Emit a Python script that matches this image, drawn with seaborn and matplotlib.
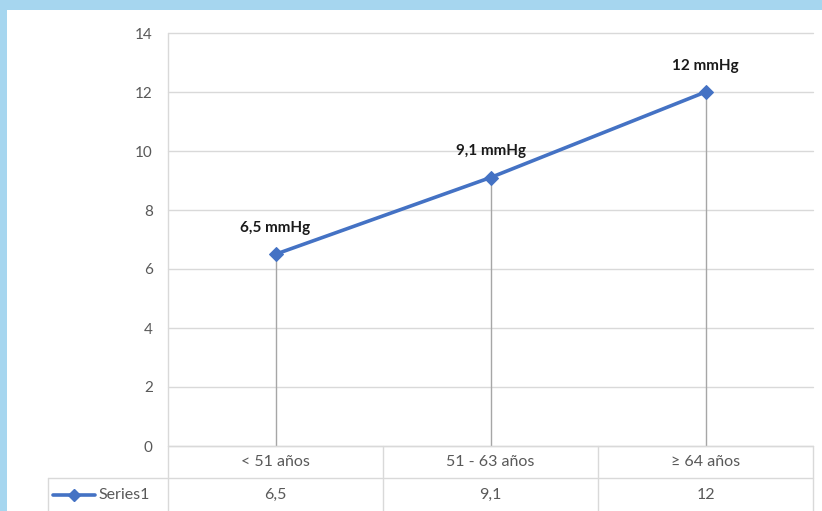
import matplotlib
matplotlib.use("Agg")
import matplotlib.pyplot as plt
from matplotlib.patches import Rectangle
from matplotlib.lines import Line2D
import seaborn as sns
import pandas as pd

categories = ["< 51 años", "51 - 63 años", "≥ 64 años"]
values = [6.5, 9.1, 12]
value_text = ["6,5", "9,1", "12"]
point_labels = ["6,5 mmHg", "9,1 mmHg", "12 mmHg"]
series_name = "Series1"
y_ticks = [0, 2, 4, 6, 8, 10, 12, 14]

sns.set_theme(style="white")
plt.rcParams["font.family"] = ["Lato", "DejaVu Sans"]

W, H = 822, 511
fig = plt.figure(figsize=(W / 100, H / 100), dpi=100)
fig.patch.set_facecolor("#a6d6ef")

# white panel inside the blue frame
fig.add_artist(Rectangle((7 / W, 0), 1, 1 - 10 / H, transform=fig.transFigure,
                         facecolor="white", edgecolor="none", zorder=0))

left, right, top, bottom = 168, 813, 33, 446
ax = fig.add_axes([left / W, 1 - bottom / H, (right - left) / W, (bottom - top) / H])
ax.set_facecolor("none")

df = pd.DataFrame({"x": range(len(categories)), "y": values})

grid_c = "#d9d9d9"
for t in y_ticks:
    ax.axhline(t, color=grid_c, lw=1, zorder=0, clip_on=False)

# drop lines from each point to zero
ax.vlines(df["x"], 0, df["y"], color="#a6a6a6", lw=1, zorder=1)

sns.lineplot(data=df, x="x", y="y", ax=ax, color="#4472c4", lw=2.6,
             marker="D", markersize=7, markeredgecolor="#4472c4", zorder=3)

for xi, yi, lab in zip(df["x"], df["y"], point_labels):
    ax.annotate(lab, (xi, yi), xytext=(0, 14), textcoords="offset points",
                ha="center", va="bottom", fontsize=11, fontweight="bold",
                color="#1a1a1a")

ax.set_xlim(-0.5, 2.5)
ax.set_ylim(0, 14)
ax.set_yticks(y_ticks)
ax.set_yticklabels([str(t) for t in y_ticks], color="#595959", fontsize=11)
ax.set_xticks([])
ax.tick_params(axis="y", length=5, color=grid_c, pad=6)
ax.set_xlabel("")
ax.set_ylabel("")
for s in ["top", "right", "bottom", "left"]:
    ax.spines[s].set_visible(False)


def fx(px):
    return px / W


def fy(py):
    return 1 - py / H


line_kw = dict(color=grid_c, lw=1, transform=fig.transFigure)
# vertical axis line running down through the table
fig.add_artist(Line2D([fx(left), fx(left)], [fy(top), fy(H)], **line_kw))
# table grid
fig.add_artist(Line2D([fx(left), fx(right)], [fy(bottom), fy(bottom)], **line_kw))
fig.add_artist(Line2D([fx(48), fx(right)], [fy(478), fy(478)], **line_kw))
fig.add_artist(Line2D([fx(48), fx(48)], [fy(478), fy(H)], **line_kw))
col_w = (right - left) / len(categories)
for i in range(1, len(categories) + 1):
    xv = left + i * col_w
    fig.add_artist(Line2D([fx(xv), fx(xv)], [fy(bottom), fy(H)], **line_kw))

for i, (cat, vt) in enumerate(zip(categories, value_text)):
    cx = left + (i + 0.5) * col_w
    fig.text(fx(cx), fy(462), cat, ha="center", va="center", fontsize=11.5, color="#595959")
    fig.text(fx(cx), fy(495), vt, ha="center", va="center", fontsize=11.5, color="#595959")

# legend key in the table
fig.add_artist(Line2D([fx(53), fx(74), fx(95)], [fy(495)] * 3, color="#4472c4", lw=2.6,
                      marker="D", markersize=6, markevery=[1], transform=fig.transFigure))
fig.text(fx(98), fy(495), series_name, ha="left", va="center", fontsize=11.5, color="#595959")

fig.savefig("out.png", dpi=100, facecolor=fig.get_facecolor())
